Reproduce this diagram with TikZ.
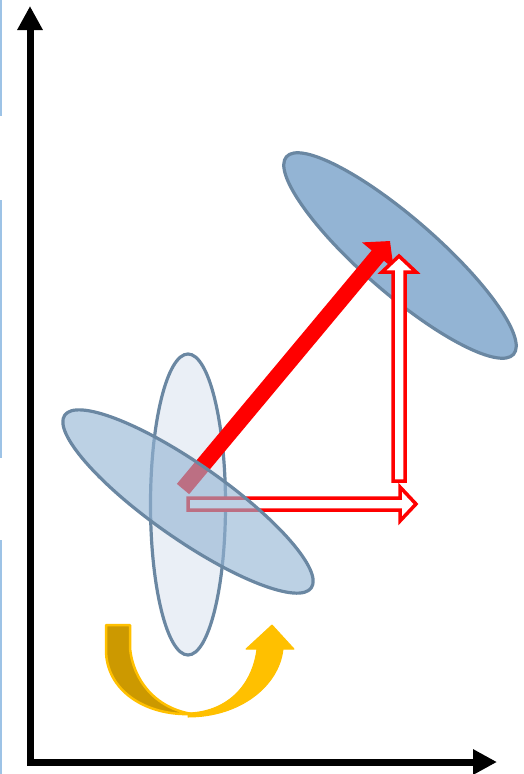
\documentclass[tikz,border=0pt]{standalone}
\usetikzlibrary{arrows.meta}
\definecolor{shell}{HTML}{6A87A2}
\definecolor{disc}{HTML}{93B4D4}
\definecolor{pale}{HTML}{EAEFF6}
\definecolor{beam}{HTML}{FF0000}
\definecolor{amber}{HTML}{FFC000}
\definecolor{ochre}{HTML}{CC9900}
\definecolor{edgeblue}{HTML}{9DC3E6}

\begin{document}
\begin{tikzpicture}[x=1pt,y=-1pt,
  axis/.style={line width=7pt,
    {Triangle[length=24pt,width=24pt]}-{Triangle[length=24pt,width=24pt]}},
  orbit/.style={draw=shell,line width=3.2pt},
  hollow/.style={draw=beam,fill=white,line width=3.5pt,line join=miter},
  glitch/.style={edgeblue,line width=2pt}]
  \useasboundingbox (0,0) rectangle (524,774);
  % semi-axes of the three discs (all the same shape)
  \pgfmathsetmacro{\longax}{150.5}
  \pgfmathsetmacro{\shortax}{37.5}

  \coordinate (O) at (30,762);
  \coordinate (Ytip) at (30,6);
  \coordinate (Xtip) at (497,762);
  \coordinate (Cmid) at (188,504.5);
  \coordinate (Clow) at (188,501.5);
  \coordinate (Cup) at (400,255.5);
  \coordinate (Rstart) at (183,489);
  \coordinate (Rtip) at (390,241);

  % faint slide edge on the left
  \draw[glitch] (1,0)--(1,116);
  \draw[glitch] (1,200)--(1,458);
  \draw[glitch] (1,540)--(1,774);

  \draw[axis] (Ytip)--(O)--(Xtip);

  \draw[orbit,fill=pale] (Cmid) ellipse (\shortax pt and \longax pt);
  \draw[orbit,fill=disc,rotate around={-41:(Cup)}]
    (Cup) ellipse (\longax pt and \shortax pt);

  % twisted ribbon arrow: back face, then front face with head
  \fill[ochre,draw=amber,line width=2.5pt,line join=round]
    (106,625)--(130,625)--(130,648)
    .. controls (133,680) and (155,708) .. (192,714)
    .. controls (145,716) and (106,690) .. (106,650)--cycle;
  \fill[amber,draw=amber,line width=1pt,line join=round]
    (188,713) .. controls (225,712) and (252,688) .. (257,649)
    --(246,649)--(272,625)--(294,649)--(283,649)
    .. controls (279,686) and (240,717) .. (188,717)--cycle;

  \draw[beam,line width=16pt,-{Triangle[length=19pt,width=40pt]}]
    (Rstart)--(Rtip);
  \draw[hollow] (188,498)--(400,498)--(400,487)--(416,504)
    --(400,521)--(400,510)--(188,510)--cycle;
  \draw[hollow] (393,481)--(393,272)--(382,272)--(399,256)
    --(416,272)--(405,272)--(405,481)--cycle;

  \draw[orbit,fill=disc,fill opacity=.62,rotate around={-35:(Clow)}]
    (Clow) ellipse (\longax pt and \shortax pt);
\end{tikzpicture}
\end{document}
